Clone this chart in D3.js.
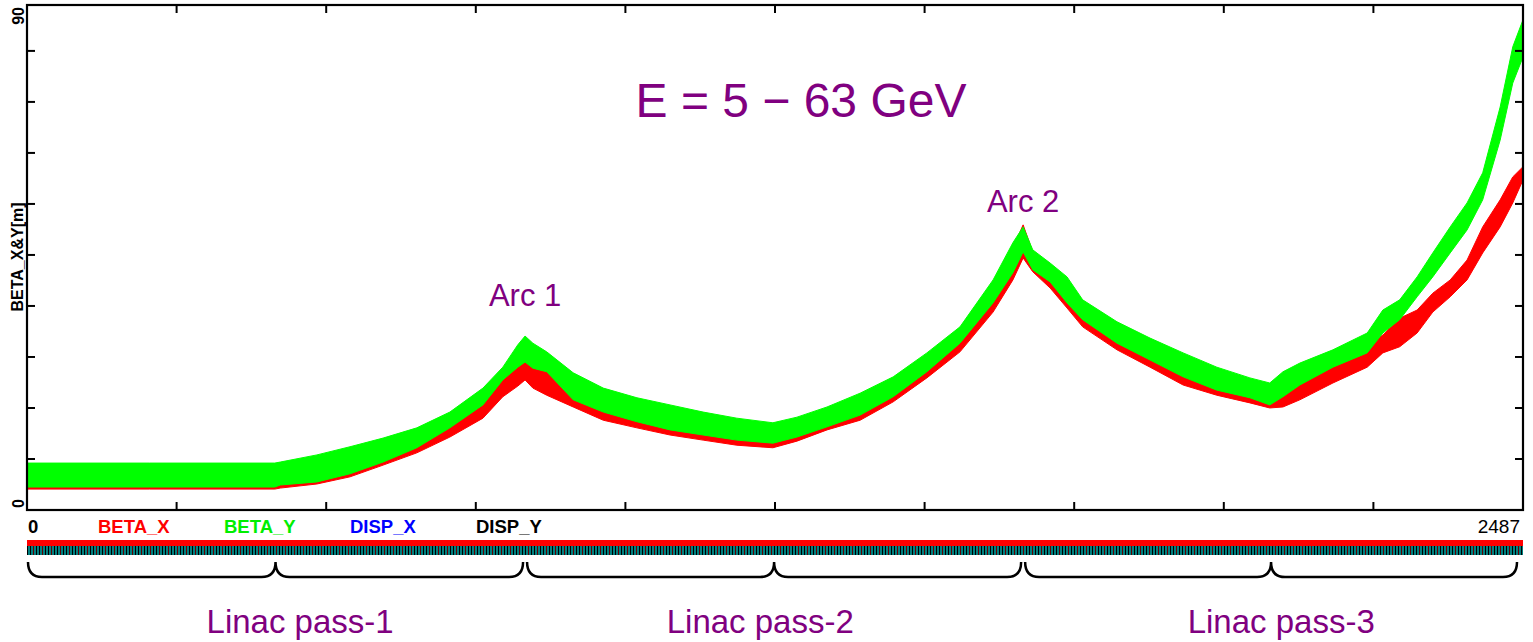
<!DOCTYPE html>
<html>
<head>
<meta charset="utf-8">
<script src="https://cdn.jsdelivr.net/npm/d3@7"></script>
<style>
  html, body { margin: 0; padding: 0; background: #fff; }
  svg { display: block; }
  text { font-family: "Liberation Sans", Arial, sans-serif; }
</style>
</head>
<body>
<svg id="chart" width="1533" height="642"></svg>
<script>
// ---- data ----
const sPos = [0,204,412,421,482,537,592,648,703,758,791,816,828,841,864,908,958,1014,1069,1124,1180,1240,1280,1330,1385,1440,1496,1551,1606,1639,1656,1672,1701,1729,1755,1812,1867,1922,1978,2033,2066,2088,2116,2171,2228,2254,2282,2311,2337,2366,2394,2420,2449,2470,2487];
const betaYMax = [9.2,9.2,9.2,9.4,10.8,12.4,14.1,16.1,19.2,23.9,28.0,32.4,34.1,32.7,31.0,26.9,23.9,22.0,20.6,19.2,18.0,17.1,18.2,20.2,22.9,26.1,30.8,35.9,45.1,52.4,55.5,51.0,48.4,45.7,41.2,36.9,33.7,30.8,28.0,25.9,24.9,27.1,28.8,31.4,34.7,39.2,41.2,45.7,50.4,55.5,60.2,66.1,79.0,90.8,96.1];
const betaYMin = [4.5,4.5,4.5,4.9,5.5,7.1,9.4,12.2,16.1,20.6,25.5,28.0,29.0,27.8,27.1,21.6,19.2,17.3,15.7,14.7,13.7,13.1,14.3,16.3,18.6,22.2,27.1,32.7,40.6,46.5,50.6,47.1,44.7,40.6,37.3,32.7,29.4,26.1,23.5,22.0,20.6,22.2,24.5,28.0,30.8,34.7,37.3,41.8,45.7,50.4,54.9,60.8,72.5,83.7,88.8];
const betaXMax = [9.0,9.0,9.0,9.2,10.4,11.8,13.3,15.3,18.0,22.5,26.5,29.4,29.8,28.6,27.8,24.5,21.6,19.6,18.0,16.7,15.7,14.7,16.1,18.6,21.6,24.7,29.4,34.7,43.7,51.4,55.9,50.6,47.5,44.1,40.2,35.3,32.4,29.4,26.5,24.5,23.5,24.5,25.9,28.0,32.4,34.3,37.6,39.2,42.5,45.1,49.0,55.5,60.8,65.3,67.3];
const betaXMin = [4.1,4.1,4.1,4.3,5.1,6.5,8.8,11.2,14.3,18.0,22.2,24.3,25.5,23.9,22.5,20.2,17.6,16.1,14.7,13.7,12.7,12.2,13.5,15.7,17.6,21.2,25.9,31.0,38.8,45.1,49.4,46.7,43.5,39.6,35.9,31.4,28.0,24.5,22.5,21.0,20.0,20.2,21.6,24.9,28.0,30.8,32.0,34.7,38.8,41.8,45.1,50.4,55.5,60.2,64.7];

const sMax = 2487;
const yMax = 99;
const xTickCount = 10;           // equal divisions of the s axis
const yTicks = [10,20,30,40,50,60,70,80,90];
const yTickLabels = ["0", "90"];
const legendItems = ["BETA_X", "BETA_Y", "DISP_X", "DISP_Y"];
const legendColors = ["#ff0000", "#00ee00", "#0000ff", "#000000"];
const passBounds = [0, 828, 1656, 2487];
const passLabels = ["Linac pass-1", "Linac pass-2", "Linac pass-3"];
const passLabelS = [454, 1219, 2085];
const arcLabels = ["Arc 1", "Arc 2"];
const arcS = [828, 1656];
const arcV = [40, 58.5];
const title = "E = 5 \u2212 63 GeV";

// ---- layout ----
const L = 27, R = 1523, T = 5, B = 510;
const svg = d3.select("#chart");
const x = d3.scaleLinear().domain([0, sMax]).range([L, R]);
const y = d3.scaleLinear().domain([0, yMax]).range([B, T]);

const pts = sPos.map((s, i) => ({ s, yMin: betaYMin[i], yMax: betaYMax[i], xMin: betaXMin[i], xMax: betaXMax[i] }));

const areaX = d3.area().x(d => x(d.s)).y0(d => y(d.xMin)).y1(d => y(d.xMax));
const areaY = d3.area().x(d => x(d.s)).y0(d => y(d.yMin)).y1(d => y(d.yMax));

svg.append("path").datum(pts).attr("d", areaX).attr("fill", "#ff0000").attr("stroke", "#ff0000").attr("stroke-width", 1);
svg.append("path").datum(pts).attr("d", areaY).attr("fill", "#00ff00").attr("stroke", "#00ff00").attr("stroke-width", 1);

// frame
svg.append("rect").attr("x", L).attr("y", T).attr("width", R - L).attr("height", B - T)
  .attr("fill", "none").attr("stroke", "#000").attr("stroke-width", 2.2);

// ticks (inward)
const xt = d3.range(1, xTickCount).map(i => i * sMax / xTickCount);
const tl = 8;
xt.forEach(s => {
  svg.append("line").attr("x1", x(s)).attr("x2", x(s)).attr("y1", B).attr("y2", B - tl).attr("stroke", "#000").attr("stroke-width", 2);
  svg.append("line").attr("x1", x(s)).attr("x2", x(s)).attr("y1", T).attr("y2", T + tl).attr("stroke", "#000").attr("stroke-width", 2);
});
yTicks.forEach(v => {
  svg.append("line").attr("x1", L).attr("x2", L + tl).attr("y1", y(v)).attr("y2", y(v)).attr("stroke", "#000").attr("stroke-width", 2);
  svg.append("line").attr("x1", R).attr("x2", R - tl).attr("y1", y(v)).attr("y2", y(v)).attr("stroke", "#000").attr("stroke-width", 2);
});

// y labels (rotated)
svg.append("text").attr("transform", `translate(24,${B - 2}) rotate(-90)`).attr("text-anchor", "start")
  .attr("font-size", 16).attr("font-weight", "bold").text(yTickLabels[0]);
svg.append("text").attr("transform", `translate(24,${T + 2}) rotate(-90)`).attr("text-anchor", "end")
  .attr("font-size", 16).attr("font-weight", "bold").text(yTickLabels[1]);
svg.append("text").attr("transform", `translate(23,257) rotate(-90)`).attr("text-anchor", "middle")
  .attr("font-size", 16).attr("font-weight", "bold").text("BETA_X&Y[m]");

// legend row
svg.append("text").attr("x", 28).attr("y", 533).attr("font-size", 18.5).attr("font-weight", "bold").text("0");
const legX = [98, 224, 350, 476];
legendItems.forEach((t, i) => {
  svg.append("text").attr("x", legX[i]).attr("y", 533).attr("font-size", 18.5).attr("font-weight", "bold")
    .attr("fill", legendColors[i]).text(t);
});
svg.append("text").attr("x", 1520).attr("y", 533).attr("text-anchor", "end").attr("font-size", 19).text(String(sMax));

// lattice bar
const defs = svg.append("defs");
const pat = defs.append("pattern").attr("id", "latt").attr("patternUnits", "userSpaceOnUse")
  .attr("width", 9).attr("height", 10).attr("x", L);
pat.append("rect").attr("width", 9).attr("height", 10).attr("fill", "#008080");
pat.append("rect").attr("x", 0).attr("width", 1).attr("height", 10).attr("fill", "#000");
pat.append("rect").attr("x", 3).attr("width", 1).attr("height", 10).attr("fill", "#000");
pat.append("rect").attr("x", 6).attr("width", 1).attr("height", 10).attr("fill", "#600000");
svg.append("rect").attr("x", L).attr("y", 540).attr("width", R - L).attr("height", 6).attr("fill", "#ff0000");
svg.append("rect").attr("x", L).attr("y", 546).attr("width", R - L).attr("height", 9).attr("fill", "url(#latt)");

// braces
const yTop = 562, yBot = 577, c = 14;
for (let i = 0; i < 3; i++) {
  const x0 = x(passBounds[i]) + (i === 0 ? 1 : 2);
  const x1 = x(passBounds[i + 1]) - (i === 2 ? 6 : 2);
  const xm = (x0 + x1) / 2;
  const p = `M${x0},${yTop} Q${x0},${yBot} ${x0 + c},${yBot} L${xm - c},${yBot} Q${xm},${yBot} ${xm},${yTop} Q${xm},${yBot} ${xm + c},${yBot} L${x1 - c},${yBot} Q${x1},${yBot} ${x1},${yTop}`;
  svg.append("path").attr("d", p).attr("fill", "none").attr("stroke", "#000").attr("stroke-width", 2.5);
  svg.append("text").attr("x", x(passLabelS[i])).attr("y", 633).attr("text-anchor", "middle")
    .attr("font-size", 33).attr("fill", "#800080").text(passLabels[i]);
}

// annotations
arcLabels.forEach((t, i) => {
  svg.append("text").attr("x", x(arcS[i])).attr("y", y(arcV[i])).attr("text-anchor", "middle")
    .attr("font-size", 31).attr("fill", "#800080").text(t);
});
svg.append("text").attr("x", 801).attr("y", 117).attr("text-anchor", "middle")
  .attr("font-size", 48).attr("fill", "#800080").text(title);
</script>
</body>
</html>
